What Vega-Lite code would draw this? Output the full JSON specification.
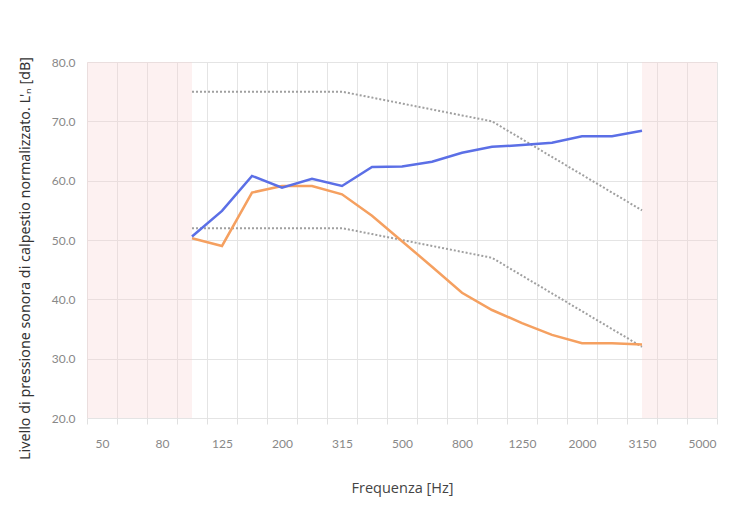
{
  "$schema": "https://vega.github.io/schema/vega-lite/v6.json",
  "width": 630,
  "height": 356,
  "autosize": {"type": "none"},
  "padding": {"left": 87, "top": 62, "right": 21, "bottom": 87},
  "background": "white",
  "config": {"view": {"stroke": null}},
  "datasets": {
    "bands": [
      {"from": -0.5, "to": 3},
      {"from": 18, "to": 20.5}
    ],
    "curves": [
      {"i": 3, "freq": "100", "blue": 50.6, "orange": 50.3, "upper": 75, "lower": 52},
      {"i": 4, "freq": "125", "blue": 54.9, "orange": 49.0, "upper": 75, "lower": 52},
      {"i": 5, "freq": "160", "blue": 60.8, "orange": 58.0, "upper": 75, "lower": 52},
      {"i": 6, "freq": "200", "blue": 58.8, "orange": 59.1, "upper": 75, "lower": 52},
      {"i": 7, "freq": "250", "blue": 60.3, "orange": 59.1, "upper": 75, "lower": 52},
      {"i": 8, "freq": "315", "blue": 59.1, "orange": 57.7, "upper": 75, "lower": 52},
      {"i": 9, "freq": "400", "blue": 62.3, "orange": 54.1, "upper": 74, "lower": 51},
      {"i": 10, "freq": "500", "blue": 62.4, "orange": 49.8, "upper": 73, "lower": 50},
      {"i": 11, "freq": "630", "blue": 63.2, "orange": 45.5, "upper": 72, "lower": 49},
      {"i": 12, "freq": "800", "blue": 64.7, "orange": 41.1, "upper": 71, "lower": 48},
      {"i": 13, "freq": "1000", "blue": 65.7, "orange": 38.2, "upper": 70, "lower": 47},
      {"i": 14, "freq": "1250", "blue": 66.0, "orange": 36.0, "upper": 67, "lower": 44},
      {"i": 15, "freq": "1600", "blue": 66.4, "orange": 34.0, "upper": 64, "lower": 41},
      {"i": 16, "freq": "2000", "blue": 67.5, "orange": 32.6, "upper": 61, "lower": 38},
      {"i": 17, "freq": "2500", "blue": 67.5, "orange": 32.6, "upper": 58, "lower": 35},
      {"i": 18, "freq": "3150", "blue": 68.4, "orange": 32.4, "upper": 55, "lower": 32}
    ]
  },
  "encoding": {
    "x": {
      "type": "quantitative",
      "scale": {"domain": [-0.5, 20.5], "nice": false, "zero": false},
      "axis": {
        "title": "Frequenza [Hz]",
        "values": [-0.5, 0.5, 1.5, 2.5, 3.5, 4.5, 5.5, 6.5, 7.5, 8.5, 9.5, 10.5, 11.5, 12.5, 13.5, 14.5, 15.5, 16.5, 17.5, 18.5, 19.5, 20.5],
        "labelExpr": "((datum.value + 0.5) % 2 == 0 && datum.value < 20) ? ['50','63','80','100','125','160','200','250','315','400','500','630','800','1000','1250','1600','2000','2500','3150','4000','5000'][datum.value + 0.5] : ''",
        "labelOffset": 15,
        "labelOverlap": false,
        "labelFlush": false,
        "labelBound": false,
        "labelFont": "Lato",
        "labelFontSize": 12,
        "labelColor": "#888888",
        "labelPadding": 14,
        "grid": true,
        "gridColor": "#e4e4e4",
        "gridWidth": 1,
        "ticks": true,
        "tickSize": 6,
        "tickColor": "#e0e0e0",
        "domain": false,
        "titleFont": "Open Sans",
        "titleFontSize": 14.5,
        "titleFontWeight": "normal",
        "titleColor": "#444444",
        "titleBaseline": "middle",
        "titleY": 70
      }
    }
  },
  "layer": [
    {
      "data": {"name": "bands"},
      "mark": {"type": "rect", "fill": "#f7d2d2", "opacity": 0.3},
      "encoding": {
        "x": {"field": "from", "type": "quantitative"},
        "x2": {"field": "to"}
      }
    },
    {
      "data": {"name": "curves"},
      "mark": {"type": "line", "stroke": "#a0a0a0", "strokeWidth": 2, "strokeDash": [2, 2]},
      "encoding": {
        "x": {"field": "i", "type": "quantitative"},
        "y": {
          "field": "upper",
          "type": "quantitative",
          "scale": {"domain": [20, 80], "nice": false, "zero": false},
          "axis": {
            "title": "Livello di pressione sonora di calpestio normalizzato. L'ₙ [dB]",
            "values": [20, 30, 40, 50, 60, 70, 80],
            "format": ".1f",
            "grid": true,
            "gridColor": "#e4e4e4",
            "ticks": false,
            "domain": false,
            "labelFont": "Lato",
            "labelFontSize": 12,
            "labelColor": "#888888",
            "labelPadding": 12,
            "titleFont": "Noto Sans",
            "titleFontSize": 14.3,
            "titleFontWeight": "normal",
            "titleColor": "#333333",
            "titleAngle": -90,
            "titleAlign": "center",
            "titleBaseline": "middle",
            "titleX": -62,
            "titleY": 196
          }
        }
      }
    },
    {
      "data": {"name": "curves"},
      "mark": {"type": "line", "stroke": "#a0a0a0", "strokeWidth": 2, "strokeDash": [2, 2]},
      "encoding": {
        "x": {"field": "i", "type": "quantitative"},
        "y": {"field": "lower", "type": "quantitative"}
      }
    },
    {
      "data": {"name": "curves"},
      "mark": {"type": "line", "stroke": "#f5a060", "strokeWidth": 2.5},
      "encoding": {
        "x": {"field": "i", "type": "quantitative"},
        "y": {"field": "orange", "type": "quantitative"}
      }
    },
    {
      "data": {"name": "curves"},
      "mark": {"type": "line", "stroke": "#5b6fe6", "strokeWidth": 2.5},
      "encoding": {
        "x": {"field": "i", "type": "quantitative"},
        "y": {"field": "blue", "type": "quantitative"}
      }
    }
  ]
}
